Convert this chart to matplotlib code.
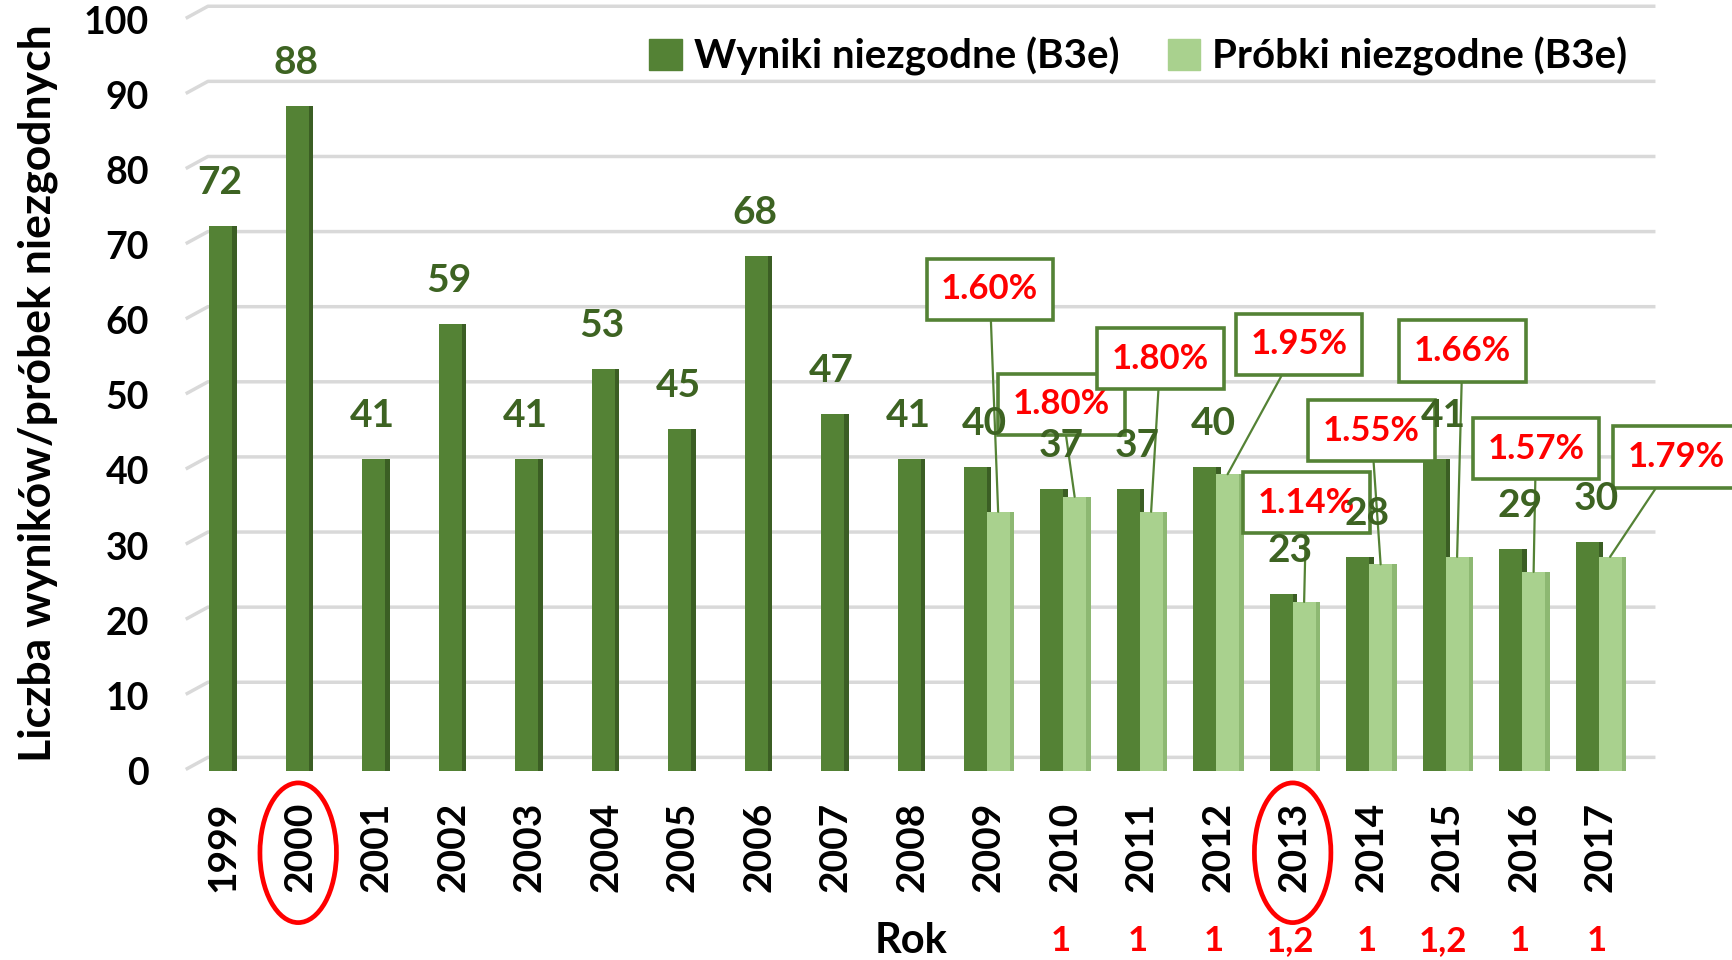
import matplotlib
matplotlib.use("Agg")
import matplotlib.pyplot as plt
from matplotlib.patches import Patch, Ellipse
import numpy as np

plt.rcParams['font.family'] = ['Lato', 'DejaVu Sans']
plt.rcParams['font.weight'] = 'bold'

years = [str(y) for y in range(1999, 2018)]
wyniki = [72, 88, 41, 59, 41, 53, 45, 68, 47, 41, 40, 37, 37, 40, 23, 28, 41, 29, 30]
probki_years = ['2009', '2010', '2011', '2012', '2013', '2014', '2015', '2016', '2017']
probki = [34, 36, 34, 39, 22, 27, 28, 26, 28]
procent = ['1.60%', '1.80%', '1.80%', '1.95%', '1.14%', '1.55%', '1.66%', '1.57%', '1.79%']
przypisy = ['1', '1', '1', '1,2', '1', '1,2', '1', '1']   # 2010-2017
zaznaczone = ['2000', '2013']

dark = '#548235'
dark_side = '#3b5e24'
light = '#a9d18e'
light_side = '#8db872'
label_green = '#3d6322'
grid_c = '#d9d9d9'
W = 'bold'

fig = plt.figure(figsize=(17.32, 9.6), dpi=100)
ax = fig.add_axes([0.1068, 0.197, 0.848, 0.7824])

x = np.arange(len(years))
w = 0.30
sw = 0.06

# gridlines (back wall, slightly shifted like the 3D chart)
for v in range(0, 101, 10):
    ax.plot([-0.47, -0.2, 18.7], [v + 0.3, v + 1.8, v + 1.8], color=grid_c, lw=2.5, zorder=0, clip_on=False)

pidx = [years.index(y) for y in probki_years]
for i, v in enumerate(wyniki):
    off = -0.17 if i in pidx else -0.03
    ax.bar(x[i] + off, v + 0.5, width=w, color=dark, zorder=2)
    ax.bar(x[i] + off + w / 2 + sw / 2, v + 0.5, width=sw, color=dark_side, zorder=2)
    ax.text(x[i] - 0.05, v + 6.3, str(v), ha='center', va='center', color=label_green,
            fontsize=28, fontweight=W, zorder=8)

for k, i in enumerate(pidx):
    ax.bar(x[i] + 0.13, probki[k] + 0.5, width=w, color=light, zorder=3)
    ax.bar(x[i] + 0.13 + w / 2 + sw / 2, probki[k] + 0.5, width=sw, color=light_side, zorder=3)

# callout boxes with percentages
box_xy = [(10.02, 64.1), (10.96, 48.8), (12.25, 54.9), (14.06, 56.8), (14.16, 35.7),
          (15.01, 45.3), (16.2, 55.9), (17.16, 42.9), (19.0, 41.8)]
for k, i in enumerate(pidx):
    ax.annotate(procent[k], xy=(x[i] + 0.13, probki[k] + 0.5), xytext=box_xy[k],
                ha='center', va='center', color='#ff0000', fontsize=25, fontweight=W,
                bbox=dict(boxstyle='square,pad=0.42', fc='white', ec=dark, lw=2.6),
                arrowprops=dict(arrowstyle='-', color=dark, lw=1.6, shrinkA=0, shrinkB=0),
                zorder=6, annotation_clip=False)

ax.set_xlim(-0.5, 18.7)
ax.set_ylim(0, 100)
ax.set_yticks(range(0, 101, 10))
ax.set_yticklabels([str(v) for v in range(0, 101, 10)], fontsize=27, fontweight=W)
ax.set_xticks(x)
ax.set_xticklabels(years, rotation=90, fontsize=28, fontweight=W)
ax.tick_params(axis='y', length=0, pad=26)
ax.tick_params(axis='x', length=0, pad=22)
for s in ax.spines.values():
    s.set_visible(False)

# red ellipses
for y in zaznaczone:
    i = years.index(y)
    ax.add_patch(Ellipse((x[i] - 0.02, -10.9), 1.0, 18.6, fill=False, ec='#ff0000', lw=3.4,
                         clip_on=False, zorder=6))

ax.text(8.99, -22.6, 'Rok', ha='center', va='center', fontsize=30, fontweight=W)
for k, t in enumerate(przypisy):
    ax.text(x[years.index('2010') + k] - 0.05, -22.6, t, ha='center', va='center', color='#ff0000',
            fontsize=25, fontweight=W, clip_on=False)

fig.text(0.022, 0.59, 'Liczba wyników/próbek niezgodnych', rotation=90, ha='center', va='center',
         fontsize=32, fontweight=W)

handles = [Patch(color=dark, label='Wyniki niezgodne (B3e)'),
           Patch(color=light, label='Próbki niezgodne (B3e)')]
fig.legend(handles=handles, loc='center right', bbox_to_anchor=(0.951, 0.941), ncol=2,
           frameon=False, prop={'size': 29, 'weight': W}, handlelength=0.8, handleheight=0.8,
           handletextpad=0.3, columnspacing=1.2, borderpad=0)

fig.savefig('out.png', dpi=100, facecolor='white')
